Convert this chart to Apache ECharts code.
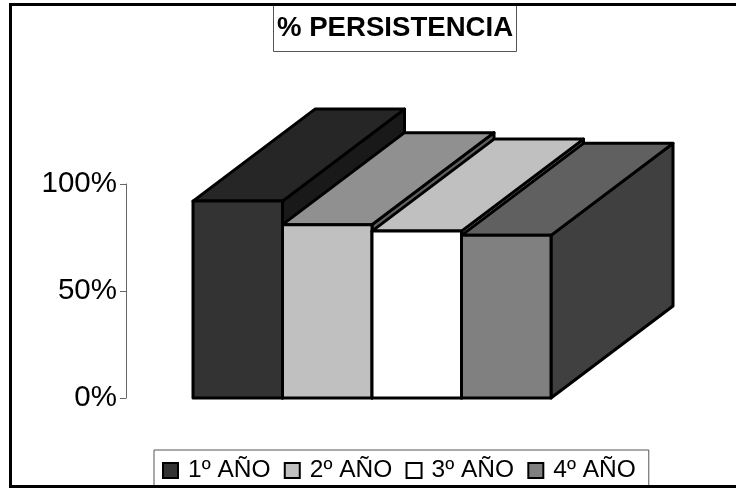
<!DOCTYPE html>
<html><head><meta charset="utf-8">
<style>html,body{margin:0;padding:0;background:#fff;overflow:hidden}#c{width:736px;height:488px}</style>
<script src="https://cdn.jsdelivr.net/npm/echarts@6/dist/echarts.min.js"></script>
</head><body><div id="c"></div>
<script>
const categories = ['1º AÑO','2º AÑO','3º AÑO','4º AÑO'];
const persistence = [92, 81, 78, 76];
const yTicks = [0, 50, 100];
const frontColors = ['#333333','#c0c0c0','#ffffff','#808080'];
const topColors = ['#262626','#909090','#c0c0c0','#606060'];
const sideColors = ['#191919','#606060','#808080','#404040'];
const DEPTH_X = 122, DEPTH_Y = -92;

const chart = echarts.init(document.getElementById('c'), null, {renderer:'canvas'});
function renderBar(i){
  return function(params, api){
    const base = api.coord([api.value(0), 0]);
    const top = api.coord([api.value(0), api.value(1)]);
    const w = api.size([1,0])[0];
    const l = base[0]-w/2, r = base[0]+w/2, t = top[1], b = base[1];
    const line = {stroke:'#000', lineWidth:3, lineJoin:'round'};
    const poly = (pts, fill) => ({type:'polygon', shape:{points:pts}, style:Object.assign({fill}, line)});
    return {type:'group', children:[
      poly([[r,t],[r+DEPTH_X,t+DEPTH_Y],[r+DEPTH_X,b+DEPTH_Y],[r,b]], sideColors[i]),
      poly([[l,t],[l+DEPTH_X,t+DEPTH_Y],[r+DEPTH_X,t+DEPTH_Y],[r,t]], topColors[i]),
      poly([[l,t],[r,t],[r,b],[l,b]], frontColors[i])
    ]};
  };
}
chart.setOption({
  animation:false,
  backgroundColor:'#fff',
  textStyle:{fontFamily:'Liberation Sans'},
  title:{
    text:'% PERSISTENCIA', left:273, top:5,
    padding:[9,4,10,4],
    backgroundColor:'#fff', borderColor:'#555', borderWidth:1,
    textStyle:{fontFamily:'Liberation Sans', fontWeight:'bold', fontSize:27.6, color:'#000', lineHeight:28}
  },
  legend:{
    left:154, top:450, padding:[8,13,6,8], itemGap:13.3, itemWidth:15, itemHeight:15,
    backgroundColor:'#fff', borderColor:'#555', borderWidth:1,
    data:categories, icon:'rect',
    textStyle:{fontFamily:'Liberation Sans', fontSize:24.5, color:'#000', padding:[0,0,0,5]}
  },
  grid:{left:193, top:184, width:358, height:214},
  xAxis:{type:'category', data:categories, show:false},
  yAxis:{
    type:'value', min:yTicks[0], max:yTicks[2], interval:yTicks[1], offset:67,
    axisLine:{show:true, lineStyle:{color:'#666', width:1}},
    axisTick:{show:true, length:6, lineStyle:{color:'#666', width:1}},
    axisLabel:{formatter:'{value}%', fontFamily:'Liberation Sans', fontSize:29.5, color:'#000', margin:9, padding:[2,0,0,0]},
    splitLine:{show:false}
  },
  series:categories.map((name,i)=>({
    type:'custom', name, z:2+i,
    itemStyle:{color:frontColors[i], borderColor:'#000', borderWidth:2},
    renderItem:renderBar(i),
    clip:false,
    encode:{x:0,y:1},
    data:[[i, persistence[i]]]
  })),
  graphic:[{type:'rect', z:100, silent:true,
    shape:{x:10.5,y:4.5,width:800,height:482},
    style:{fill:'none',stroke:'#000',lineWidth:3}}]
});
</script></body></html>
